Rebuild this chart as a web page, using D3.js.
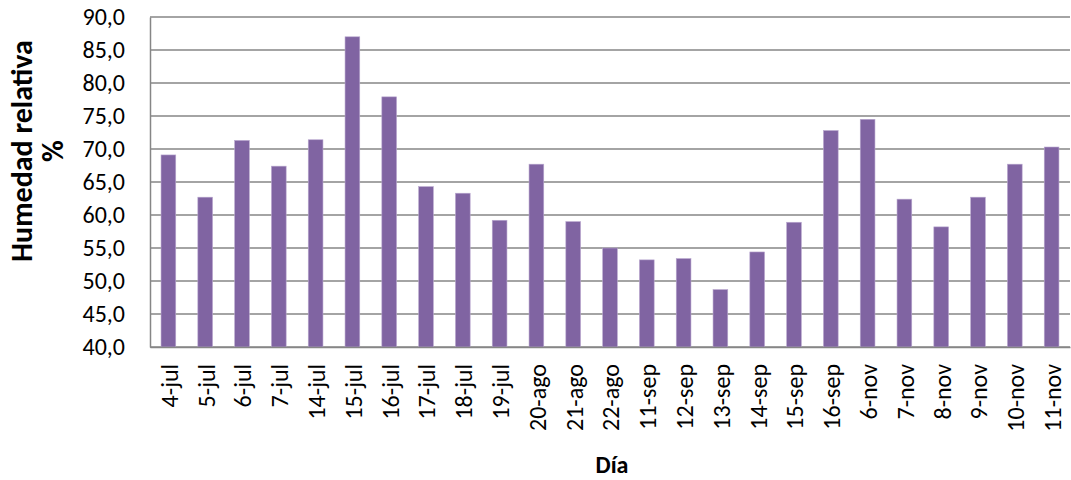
<!DOCTYPE html>
<html>
<head>
<meta charset="utf-8">
<script src="https://cdn.jsdelivr.net/npm/d3@7"></script>
<style>
  html, body { margin: 0; padding: 0; background: #fff; }
  svg { display: block; font-family: "Carlito", "Lato", "Open Sans", sans-serif; }
</style>
</head>
<body>
<svg id="chart" width="1071" height="480"></svg>
<script>
// Relative humidity per sampling day
const dias = ["4-jul","5-jul","6-jul","7-jul","14-jul","15-jul","16-jul","17-jul","18-jul","19-jul",
  "20-ago","21-ago","22-ago","11-sep","12-sep","13-sep","14-sep","15-sep","16-sep",
  "6-nov","7-nov","8-nov","9-nov","10-nov","11-nov"];
const humedad = [69.1, 62.7, 71.3, 67.4, 71.4, 87.0, 77.9, 64.3, 63.3, 59.2,
  67.7, 59.0, 55.0, 53.2, 53.4, 48.7, 54.4, 58.9, 72.8,
  74.5, 62.4, 58.2, 62.7, 67.7, 70.3];
const yTicks = [40, 45, 50, 55, 60, 65, 70, 75, 80, 85, 90];

const svg = d3.select("#chart");
const margin = { top: 17, right: 1, bottom: 133, left: 150 };
const W = 1071, H = 480;
const innerW = W - margin.left - margin.right;
const innerH = H - margin.top - margin.bottom;
const FONT = "Carlito, Lato, 'Open Sans', sans-serif";

const g = svg.append("g").attr("transform", `translate(${margin.left},${margin.top})`);

const x = d3.scaleBand().domain(dias).range([0, innerW]).paddingInner(0.6).paddingOuter(0.3);
const y = d3.scaleLinear().domain([40, 90]).range([innerH, 0]);

const fmt = v => d3.format(".1f")(v).replace(".", ",");

// horizontal gridlines
g.append("g")
  .selectAll("line")
  .data(yTicks)
  .join("line")
  .attr("x1", 0).attr("x2", innerW)
  .attr("y1", d => y(d)).attr("y2", d => y(d))
  .attr("stroke", "#868686").attr("stroke-width", 1.5);

// y axis
const yAxis = g.append("g")
  .call(d3.axisLeft(y).tickValues(yTicks).tickFormat(fmt).tickSize(0).tickPadding(25));
yAxis.select(".domain").attr("stroke", "#868686").attr("stroke-width", 1.5);
yAxis.selectAll("text").attr("font-size", 24).attr("fill", "#000").attr("font-family", FONT);

// bars
g.append("g")
  .selectAll("rect")
  .data(humedad)
  .join("rect")
  .attr("x", (d, i) => x(dias[i]))
  .attr("width", x.bandwidth())
  .attr("y", d => y(d))
  .attr("height", d => innerH - y(d))
  .attr("fill", "#8064A2")
  .attr("stroke", "#B9A8CF")
  .attr("stroke-width", 0.6);

// x axis
const xAxis = g.append("g")
  .attr("transform", `translate(0,${innerH})`)
  .call(d3.axisBottom(x).tickSize(0).tickPadding(0));
xAxis.select(".domain").attr("stroke", "#868686").attr("stroke-width", 1.5);
xAxis.selectAll("text")
  .attr("font-size", 24).attr("fill", "#000").attr("font-family", FONT)
  .attr("text-anchor", "end")
  .attr("transform", "translate(1,17) rotate(-90)")
  .attr("x", 0).attr("y", 0).attr("dy", "0.35em");

// axis titles
svg.append("text")
  .attr("x", 612).attr("y", 473)
  .attr("text-anchor", "middle")
  .attr("font-size", 24).attr("font-weight", "bold").attr("font-family", FONT)
  .text("Día");

const yt = svg.append("text")
  .attr("transform", "translate(36,151) rotate(-90)")
  .attr("text-anchor", "middle")
  .attr("font-size", 30).attr("font-weight", "bold").attr("font-family", FONT);
yt.append("tspan").attr("x", 0).attr("dy", "-0.15em").text("Humedad relativa");
yt.append("tspan").attr("x", 0).attr("dy", "1.05em").text("%");
</script>
</body>
</html>
